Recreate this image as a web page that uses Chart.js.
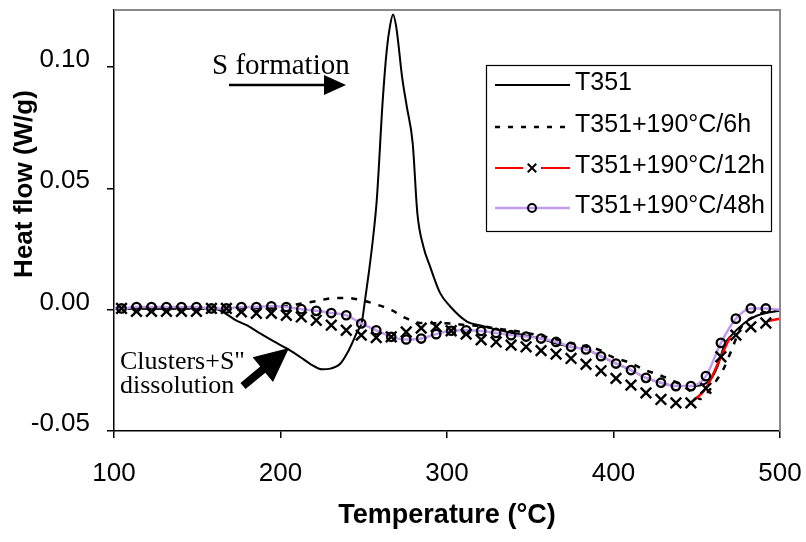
<!DOCTYPE html>
<html>
<head>
<meta charset="utf-8">
<script src="https://cdn.jsdelivr.net/npm/chart.js@4.4.1/dist/chart.umd.min.js"></script>
<style>
  html, body { margin: 0; padding: 0; background: #fff; }
  #wrap { width: 806px; height: 542px; }
</style>
</head>
<body>
<div id="wrap"><canvas id="dscChart" width="806" height="542"></canvas></div>
<script>
// --- data ---
const seriesNames = ['T351', 'T351+190°C/6h', 'T351+190°C/12h', 'T351+190°C/48h'];
const xTicks = [100, 200, 300, 400, 500];
const yTicks = [-0.05, 0.00, 0.05, 0.10];

// T351 (solid black)
const t351Temp = [100, 130, 160, 166, 173, 180, 188, 196, 204, 212, 218, 225, 230, 236, 240.7, 243.5, 246, 248.8, 250.8, 253,
  255.5, 257.8, 261.4, 263.8, 265.8, 267.6, 269.4, 270.8, 273, 275.9, 279.4, 282.2, 285.8, 289.8, 295.8, 301.8, 312, 320.8, 329.8, 338.5,
  347.9, 356.5, 365.5, 374.5, 383.5, 392.5, 401.5, 410.5, 419.5, 428.5, 437.5, 446.5, 457, 462, 467, 470, 479, 486, 493, 500];
const t351Flow = [0.0005, 0.0005, 0.0005, -0.0012, -0.0043, -0.0065, -0.0099, -0.0131, -0.0161, -0.0196, -0.0224, -0.0246, -0.0243, -0.0222, -0.0171, -0.0131, -0.0092, -0.0053, 0.0041, 0.0150,
  0.0290, 0.0450, 0.0862, 0.1068, 0.1170, 0.1216, 0.1170, 0.1095, 0.0960, 0.0835, 0.0685, 0.0397, 0.0260, 0.0178, 0.0069, 0.0014, -0.0049, -0.0066, -0.0082, -0.0095,
  -0.0107, -0.0119, -0.0140, -0.0153, -0.0164, -0.0192, -0.0222, -0.0249, -0.0281, -0.0301, -0.0315, -0.0315, -0.0297, -0.0242, -0.0139, -0.0112, -0.0053, -0.0025, -0.0012, -0.0004];

// T351+190°C/6h (dotted black)
const sixHTemp = [100, 150, 190, 200, 212.7, 221.7, 229.7, 239.7, 248.7, 257.8, 266.8, 273.8, 283.8, 293, 302.4, 311.8, 320.8, 329.8, 338.4, 347.9,
  356.5, 365.5, 374.9, 383.5, 391.9, 398.9, 409.9, 418.9, 427.9, 436.9, 446, 452, 456, 461, 466, 471, 476, 480, 486, 492, 500];
const sixHFlow = [0.0005, 0.0005, 0.0006, 0.0012, 0.0025, 0.0035, 0.0046, 0.0048, 0.0039, 0.0021, -0.0002, -0.0030, -0.0055, -0.0056, -0.0057, -0.0064, -0.0068, -0.0078, -0.0085, -0.0096,
  -0.0108, -0.0122, -0.0139, -0.0152, -0.0167, -0.0194, -0.0219, -0.0249, -0.0270, -0.0297, -0.0335, -0.0368, -0.0345, -0.0300, -0.0245, -0.0165, -0.0080, -0.0048, -0.0023, -0.0010, -0.0003];

// marker temperatures shared by the 12h (x) and 48h (o) series
const markerTemp = [104.5, 113.5, 122.5, 131.5, 140.5, 149.5, 158.5, 167.5, 176.5, 185.5, 194.5, 203.5, 212.5, 221.5, 230.5, 239.5, 248.5, 257.5, 266.5, 275.5,
  284.5, 293.5, 302.5, 311.5, 320.5, 329.5, 338.5, 347.5, 356.5, 365.5, 374.5, 383.5, 392.5, 401.5, 410.5, 419.5, 428.5, 437.5, 446.5, 455.5,
  464.5, 473.5, 482.5, 491.5];
const twelveHFlow = [0.0005, -0.0007, -0.0007, -0.0007, -0.0007, -0.0007, 0.0005, 0.0005, -0.0009, -0.0015,
  -0.0015, -0.0023, -0.0030, -0.0044, -0.0064, -0.0085, -0.0105, -0.0115, -0.0112, -0.0092,
  -0.0076, -0.0070, -0.0087, -0.0101, -0.0124, -0.0133, -0.0146, -0.0153, -0.0169, -0.0183,
  -0.0201, -0.0225, -0.0252, -0.0283, -0.0311, -0.0343, -0.0370, -0.0384, -0.0384, -0.0324,
  -0.0194, -0.0105, -0.0071, -0.0055];
const fortyEightHFlow = [0.0005, 0.0011, 0.0011, 0.0011, 0.0011, 0.0011, 0.0005, 0.0005, 0.0011, 0.0011,
  0.0014, 0.0011, 0.0002, -0.0005, -0.0014, -0.0023, -0.0057, -0.0085, -0.0112, -0.0123,
  -0.0119, -0.0101, -0.0087, -0.0085, -0.0088, -0.0096, -0.0105, -0.0111, -0.0119, -0.0133,
  -0.0153, -0.0164, -0.0192, -0.0222, -0.0249, -0.0281, -0.0301, -0.0315, -0.0315, -0.0274,
  -0.0137, -0.0037, 0.0005, 0.0005];
// 48h line runs on to both axis ends
const fortyEightHEdgeTemp = [100, 500];
const fortyEightHEdgeFlow = [0.0005, 0.0];

// parts of the red 12h line that show in the figure
const redLineTemp = [446.5, 455.5, 464.5, 470, 481, 493, 500];
const redLineFlow = [-0.0384, -0.0324, -0.0194, -0.0112, null, -0.0047, -0.0037];

const SANS = '"Liberation Sans", Arial, sans-serif';
const SERIF = '"Liberation Serif", "Times New Roman", serif';
const PURPLE = '#c39bf0';

const pts = (xs, ys) => xs.map((x, i) => ({ x: x, y: ys[i] }));
const line48 = pts(
  [fortyEightHEdgeTemp[0], ...markerTemp, fortyEightHEdgeTemp[1]],
  [fortyEightHEdgeFlow[0], ...fortyEightHFlow, fortyEightHEdgeFlow[1]]
);

// frame, legend, notes and axis titles
const overlay = {
  id: 'overlay',
  afterDraw(chart) {
    const { ctx, chartArea: a } = chart;
    ctx.save();

    // grey plot-area border (top + right)
    ctx.strokeStyle = '#8a8a8a';
    ctx.lineWidth = 2;
    ctx.beginPath();
    ctx.moveTo(a.left, a.top);
    ctx.lineTo(a.right, a.top);
    ctx.lineTo(a.right, a.bottom);
    ctx.stroke();

    // legend
    ctx.fillStyle = '#fff';
    ctx.fillRect(486, 65, 286, 167);
    ctx.strokeStyle = '#000';
    ctx.lineWidth = 1.2;
    ctx.strokeRect(486.5, 65.5, 285, 166);
    const rows = [85, 127, 168, 208];
    ctx.font = '25px ' + SANS;
    ctx.textBaseline = 'middle';
    ctx.textAlign = 'left';
    rows.forEach((y, i) => {
      ctx.save();
      ctx.lineCap = 'butt';
      if (i === 0) {
        ctx.strokeStyle = '#000'; ctx.lineWidth = 2;
        ctx.beginPath(); ctx.moveTo(495, y); ctx.lineTo(570, y); ctx.stroke();
      } else if (i === 1) {
        ctx.strokeStyle = '#000'; ctx.lineWidth = 2.5; ctx.setLineDash([5, 8]);
        ctx.beginPath(); ctx.moveTo(495, y); ctx.lineTo(570, y); ctx.stroke();
      } else if (i === 2) {
        ctx.strokeStyle = '#ff0000'; ctx.lineWidth = 2;
        ctx.beginPath(); ctx.moveTo(495, y); ctx.lineTo(523, y); ctx.moveTo(541, y); ctx.lineTo(570, y); ctx.stroke();
        ctx.strokeStyle = '#000';
        Chart.helpers.drawPoint(ctx, { pointStyle: 'crossRot', radius: 6, rotation: 0, borderWidth: 2 }, 532, y);
      } else {
        ctx.strokeStyle = PURPLE; ctx.lineWidth = 2.5;
        ctx.beginPath(); ctx.moveTo(495, y); ctx.lineTo(570, y); ctx.stroke();
        ctx.strokeStyle = '#000'; ctx.lineWidth = 2;
        ctx.beginPath(); ctx.arc(532, y, 4, 0, Math.PI * 2); ctx.stroke();
      }
      ctx.restore();
      ctx.fillStyle = '#000';
      ctx.fillText(seriesNames[i], 575, y - 2);
    });

    // "S formation" note with arrow
    ctx.fillStyle = '#000';
    ctx.font = '29px ' + SERIF;
    ctx.textBaseline = 'alphabetic';
    ctx.fillText('S formation', 212, 74);
    ctx.strokeStyle = '#000';
    ctx.lineWidth = 2.5;
    ctx.beginPath(); ctx.moveTo(229, 85); ctx.lineTo(327, 85); ctx.stroke();
    ctx.beginPath(); ctx.moveTo(324, 75); ctx.lineTo(346, 85); ctx.lineTo(324, 95); ctx.closePath(); ctx.fill();

    // "Clusters+S'' dissolution" note with block arrow
    ctx.font = '26px ' + SERIF;
    ctx.fillText('Clusters+S"', 120, 369);
    ctx.fillText('dissolution', 120, 393);
    const tail = [243, 386], tip = [289, 348];
    const dx = tip[0] - tail[0], dy = tip[1] - tail[1];
    const len = Math.hypot(dx, dy), ux = dx / len, uy = dy / len, nx = -uy, ny = ux;
    const headLen = 34, headW = 16, shaftW = 4;
    const bx = tip[0] - ux * headLen, by = tip[1] - uy * headLen;
    ctx.beginPath();
    ctx.moveTo(tail[0] + nx * shaftW, tail[1] + ny * shaftW);
    ctx.lineTo(bx + nx * shaftW, by + ny * shaftW);
    ctx.lineTo(bx + nx * headW, by + ny * headW);
    ctx.lineTo(tip[0], tip[1]);
    ctx.lineTo(bx - nx * headW, by - ny * headW);
    ctx.lineTo(bx - nx * shaftW, by - ny * shaftW);
    ctx.lineTo(tail[0] - nx * shaftW, tail[1] - ny * shaftW);
    ctx.closePath();
    ctx.fill();

    // axis titles
    ctx.font = 'bold 27px ' + SANS;
    ctx.textAlign = 'center';
    ctx.fillText('Temperature (°C)', (a.left + a.right) / 2, 523);
    ctx.save();
    ctx.translate(32, 184);
    ctx.rotate(-Math.PI / 2);
    ctx.font = 'bold 26px ' + SANS;
    ctx.fillText('Heat flow (W/g)', 0, 0);
    ctx.restore();

    ctx.restore();
  }
};

new Chart(document.getElementById('dscChart').getContext('2d'), {
  type: 'line',
  data: {
    datasets: [
      { // x markers of the 12h run
        label: seriesNames[2] + ' markers',
        data: pts(markerTemp, twelveHFlow),
        showLine: false,
        pointStyle: 'crossRot',
        pointRadius: 7.5,
        pointBorderWidth: 2.4,
        pointBorderColor: '#000',
        pointBackgroundColor: 'transparent',
        order: 0
      },
      {
        label: seriesNames[3],
        data: line48,
        borderColor: PURPLE,
        borderWidth: 2.5,
        pointStyle: 'circle',
        pointRadius: c => (c.dataIndex === 0 || c.dataIndex === line48.length - 1) ? 0 : 4.2,
        pointBorderWidth: 2.3,
        pointBorderColor: '#000',
        pointBackgroundColor: 'transparent',
        order: 1
      },
      {
        label: seriesNames[2],
        data: pts(redLineTemp, redLineFlow),
        borderColor: '#ff0000',
        borderWidth: 2.5,
        pointRadius: 0,
        spanGaps: false,
        order: 2
      },
      {
        label: seriesNames[1],
        data: pts(sixHTemp, sixHFlow),
        borderColor: '#000',
        borderWidth: 2.5,
        borderDash: [6, 8],
        pointRadius: 0,
        order: 3
      },
      {
        label: seriesNames[0],
        data: pts(t351Temp, t351Flow),
        borderColor: '#000',
        borderWidth: 2,
        pointRadius: 0,
        order: 4
      }
    ]
  },
  options: {
    responsive: false,
    devicePixelRatio: 1,
    animation: false,
    events: [],
    layout: { padding: { top: 9, right: 26, left: 0, bottom: 0 } },
    elements: { line: { cubicInterpolationMode: 'monotone', fill: false } },
    plugins: { legend: { display: false }, tooltip: { enabled: false } },
    scales: {
      x: {
        type: 'linear',
        min: xTicks[0],
        max: xTicks[xTicks.length - 1],
        afterBuildTicks: s => { s.ticks = xTicks.map(v => ({ value: v })); },
        ticks: { color: '#000', font: { family: SANS, size: 26 }, padding: 20, maxRotation: 0, callback: v => String(v) },
        grid: { drawOnChartArea: false, drawTicks: true, tickLength: 7, color: '#000', lineWidth: 1.5 },
        border: { display: true, color: '#000', width: 1.5 },
        afterFit: s => { s.height = 111; s.paddingLeft = 0; s.paddingRight = 0; }
      },
      y: {
        type: 'linear',
        min: -0.05,
        max: 0.1235,
        afterBuildTicks: s => { s.ticks = yTicks.map(v => ({ value: v })); },
        ticks: { color: '#000', font: { family: SANS, size: 26 }, padding: 17, labelOffset: -7, callback: v => v.toFixed(2) },
        grid: { drawOnChartArea: false, drawTicks: true, tickLength: 7, color: '#000', lineWidth: 1.5 },
        border: { display: true, color: '#000', width: 1.5 },
        afterFit: s => { s.width = 114; s.paddingTop = 0; s.paddingBottom = 0; }
      }
    }
  },
  plugins: [overlay]
});
</script>
</body>
</html>
